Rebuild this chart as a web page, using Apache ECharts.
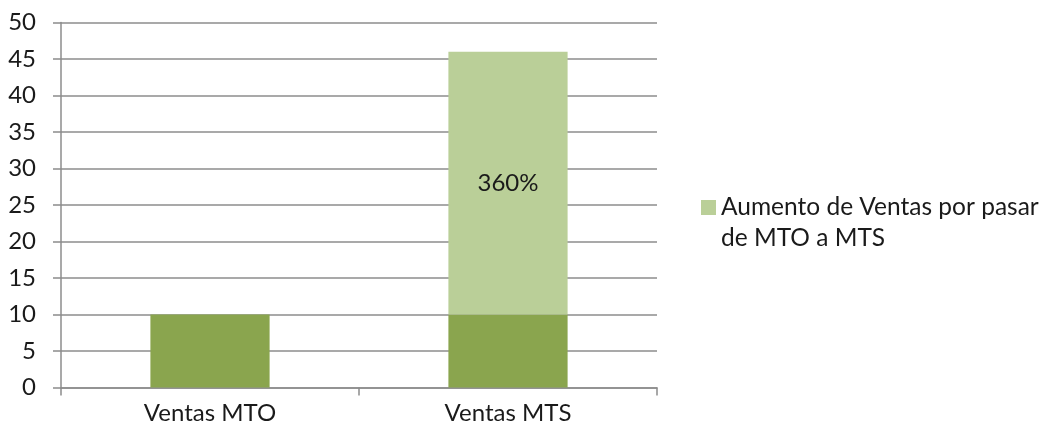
<!DOCTYPE html>
<html>
<head>
<meta charset="utf-8">
<script src="https://cdn.jsdelivr.net/npm/echarts@6/dist/echarts.min.js"></script>
<style>
  html, body { margin: 0; padding: 0; background: #fff; }
  #chart { width: 1049px; height: 433px; }
</style>
</head>
<body>
<div id="chart"></div>
<script>
// Categories and series values
const categories = ['Ventas MTO', 'Ventas MTS'];
const baseSales = [10, 10];
const increase = [null, 36];
const increaseName = 'Aumento de Ventas por pasar de MTO a MTS';
const legendLines = ['Aumento de Ventas por pasar', 'de MTO a MTS'];
const yTicks = { min: 0, max: 50, interval: 5 };

const font = 'Lato, "Open Sans", sans-serif';
const grey = '#8c8c8c';
const ink = '#1a1a1a';

const chart = echarts.init(document.getElementById('chart'));
chart.setOption({
  animation: false,
  textStyle: { fontFamily: font },
  grid: { left: 61, right: 392, top: 22.5, bottom: 45.5, containLabel: false },
  legend: {
    data: [increaseName],
    left: 696,
    top: 186,
    itemWidth: 15,
    itemHeight: 15,
    icon: 'rect',
    formatter: () => legendLines[0],
    textStyle: { fontSize: 24.5, color: ink, lineHeight: 33, fontFamily: font }
  },
  // second line of the wrapped legend entry
  graphic: [{
    type: 'text',
    left: 721,
    top: 226,
    style: { text: legendLines[1], fontSize: 24.5, fill: ink, fontFamily: font }
  }],
  xAxis: {
    type: 'category',
    data: categories,
    axisLine: { lineStyle: { color: grey, width: 1.5 } },
    axisTick: { show: true, length: 8, lineStyle: { color: grey, width: 1.5 } },
    axisLabel: { fontSize: 24, color: ink, margin: 14 }
  },
  yAxis: {
    type: 'value',
    min: yTicks.min,
    max: yTicks.max,
    interval: yTicks.interval,
    axisLine: { show: true, lineStyle: { color: grey, width: 1.5 } },
    axisTick: { show: true, length: 8, lineStyle: { color: grey, width: 1.5 } },
    axisLabel: { fontSize: 24, color: ink, margin: 25 },
    splitLine: { lineStyle: { color: grey, width: 1.5 } }
  },
  series: [
    {
      name: 'Ventas',
      type: 'bar',
      stack: 'total',
      data: baseSales,
      barCategoryGap: '60%',
      itemStyle: { color: '#8aa54e' }
    },
    {
      name: increaseName,
      type: 'bar',
      stack: 'total',
      data: increase,
      barCategoryGap: '60%',
      itemStyle: { color: '#bacf98' },
      label: {
        show: true,
        position: 'inside',
        fontSize: 24,
        color: ink,
        fontFamily: font,
        formatter: p => Math.round(p.value / baseSales[p.dataIndex] * 100) + '%'
      }
    }
  ]
});
</script>
</body>
</html>
